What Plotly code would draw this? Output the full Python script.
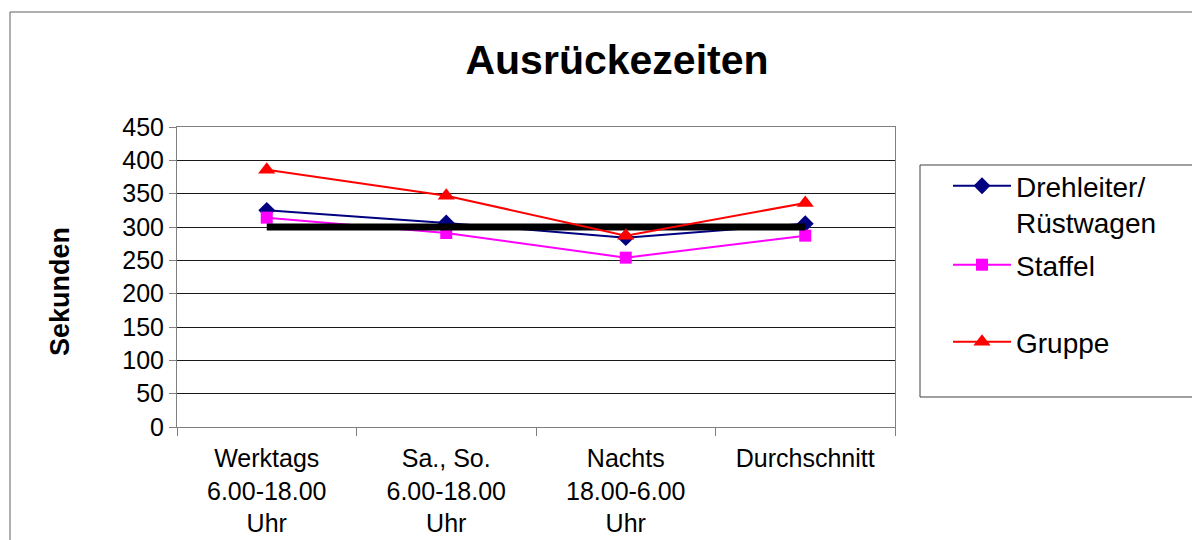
import plotly.graph_objects as go

categories = ["Werktags<br>6.00-18.00<br>Uhr", "Sa., So.<br>6.00-18.00<br>Uhr",
              "Nachts<br>18.00-6.00<br>Uhr", "Durchschnitt"]
drehleiter = [325, 306, 284, 305]
staffel = [314, 291, 254, 287]
gruppe = [386, 347, 287, 336]
sollwert = [300, 300, 300, 300]
y_ticks = [0, 50, 100, 150, 200, 250, 300, 350, 400, 450]

FONT = "Liberation Sans, Arial, sans-serif"

fig = go.Figure()
fig.add_trace(go.Scatter(x=categories, y=drehleiter, name="Drehleiter/<br>Rüstwagen",
                         mode="lines+markers", line=dict(color="#000080", width=2),
                         marker=dict(symbol="diamond", size=13, color="#000080"),
                         legend="legend"))
fig.add_trace(go.Scatter(x=categories, y=staffel, name="Staffel",
                         mode="lines+markers", line=dict(color="#FF00FF", width=2),
                         marker=dict(symbol="square", size=12, color="#FF00FF"),
                         legend="legend2"))
fig.add_trace(go.Scatter(x=categories, y=sollwert, name="Soll",
                         mode="lines", line=dict(color="#000000", width=7),
                         showlegend=False))
fig.add_trace(go.Scatter(x=categories, y=gruppe, name="Gruppe",
                         mode="lines+markers", line=dict(color="#FF0000", width=2),
                         marker=dict(symbol="triangle-up", size=15, color="#FF0000"),
                         legend="legend3"))

OFF = 8  # page offset of the figure
W, H = 1200, 540
# target plot area in page coordinates
L, R, T, B = 177 - OFF, 895 - OFF, 127 - OFF, 427 - OFF
pw, ph = R - L, B - T

def px(x):
    return (x - OFF - L) / pw

def py(y):
    return (B - (y - OFF)) / ph

leg_common = dict(font=dict(family=FONT, size=28, color="black"), bgcolor="rgba(0,0,0,0)",
                  borderwidth=0, itemwidth=58, xanchor="left", yanchor="middle",
                  valign="top")

fig.update_layout(
    width=W, height=H,
    margin=dict(l=L, r=W - R, t=T, b=H - B),
    paper_bgcolor="white", plot_bgcolor="white",
    title=dict(text="<b>Ausrückezeiten</b>", x=(617 - OFF) / W, xanchor="center",
               y=1 - (60 - OFF) / H, yanchor="middle",
               font=dict(family=FONT, size=41, color="black")),
    font=dict(family=FONT, color="black"),
    legend=dict(x=px(948), y=py(204), **leg_common),
    legend2=dict(x=px(948), y=py(265), **leg_common),
    legend3=dict(x=px(948), y=py(342), **leg_common),
    xaxis=dict(type="category", tickson="boundaries", ticks="outside", ticklen=8,
               tickcolor="#808080", showline=True, linecolor="#808080", linewidth=1,
               mirror=True, showgrid=False, range=[-0.5, 3.5], ticklabelstandoff=9,
               tickfont=dict(family=FONT, size=25, color="black")),
    yaxis=dict(range=[0, 450], tickvals=y_ticks, ticks="outside", ticklen=7,
               tickcolor="#808080", showline=True, linecolor="#808080", linewidth=1,
               mirror=True, showgrid=True, gridcolor="#1a1a1a", gridwidth=1,
               zeroline=False,
               tickfont=dict(family=FONT, size=25, color="black")),
    annotations=[
        dict(text="<b>Sekunden</b>", xref="paper", yref="paper", x=px(60), y=py(292),
             xanchor="center", yanchor="middle", textangle=-90, showarrow=False,
             font=dict(family=FONT, size=27, color="black")),
    ],
    shapes=[
        dict(type="rect", xref="paper", yref="paper", x0=px(10), x1=px(1215),
             y0=py(560), y1=py(12), line=dict(color="#606060", width=1),
             fillcolor="rgba(0,0,0,0)", layer="below"),
        dict(type="rect", xref="paper", yref="paper", x0=px(920), x1=px(1195),
             y0=py(397), y1=py(165), line=dict(color="#404040", width=1),
             fillcolor="rgba(0,0,0,0)"),
    ],
)

fig.write_html("out.html")
